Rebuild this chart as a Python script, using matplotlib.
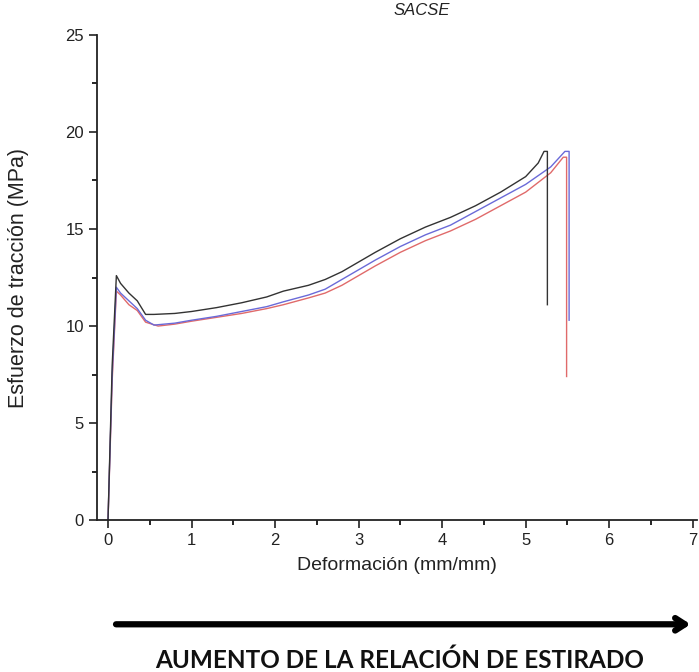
import matplotlib.pyplot as plt
import numpy as np

# curvas esfuerzo-deformacion, SACSE
strain_k = [0, 0.05, 0.1, 0.15, 0.25, 0.35, 0.45, 0.55, 0.8, 1.0, 1.3, 1.6, 1.9, 2.1, 2.4, 2.6,
            2.8, 3.0, 3.2, 3.5, 3.8, 4.1, 4.4, 4.7, 5.0, 5.15, 5.22, 5.26, 5.26]
stress_k = [0, 8.0, 12.6, 12.2, 11.7, 11.3, 10.6, 10.6, 10.65, 10.75, 10.95, 11.2, 11.5, 11.8, 12.1, 12.4,
            12.8, 13.3, 13.8, 14.5, 15.1, 15.6, 16.2, 16.9, 17.7, 18.4, 19.0, 19.0, 11.1]

strain_b = [0, 0.05, 0.1, 0.15, 0.25, 0.35, 0.45, 0.55, 0.8, 1.0, 1.3, 1.6, 1.9, 2.1, 2.4, 2.6,
            2.8, 3.0, 3.2, 3.5, 3.8, 4.1, 4.4, 4.7, 5.0, 5.3, 5.47, 5.52, 5.52]
stress_b = [0, 7.5, 12.0, 11.7, 11.3, 10.9, 10.3, 10.05, 10.15, 10.3, 10.5, 10.75, 11.0, 11.25, 11.6, 11.9,
            12.4, 12.9, 13.4, 14.1, 14.7, 15.2, 15.9, 16.6, 17.3, 18.2, 19.0, 19.0, 10.3]

strain_r = [0, 0.05, 0.1, 0.15, 0.25, 0.35, 0.45, 0.6, 0.8, 1.0, 1.3, 1.6, 1.9, 2.1, 2.4, 2.6,
            2.8, 3.0, 3.2, 3.5, 3.8, 4.1, 4.4, 4.7, 5.0, 5.3, 5.45, 5.49, 5.49]
stress_r = [0, 7.2, 11.8, 11.6, 11.1, 10.8, 10.2, 10.0, 10.1, 10.25, 10.45, 10.65, 10.9, 11.1, 11.45, 11.7,
            12.1, 12.6, 13.1, 13.8, 14.4, 14.9, 15.5, 16.2, 16.9, 17.9, 18.7, 18.7, 7.4]

x_ticks = [0, 1, 2, 3, 4, 5, 6, 7]
y_ticks = [0, 5, 10, 15, 20, 25]

plt.rcParams['font.family'] = ['Liberation Sans', 'DejaVu Sans']

fig = plt.figure(figsize=(6.99, 6.72), dpi=100)
ax = fig.add_axes([0.139, 0.226, 0.858, 0.722])

ax.plot(strain_r, stress_r, color='#e06a6a', lw=1.0)
ax.plot(strain_b, stress_b, color='#6a6ad8', lw=1.0)
ax.plot(strain_k, stress_k, color='#333333', lw=1.0)

ax.set_xlim(-0.13, 7.05)
ax.set_ylim(0, 25)
ax.set_xticks(x_ticks)
ax.set_yticks(y_ticks)
ax.set_xticks(np.arange(0.5, 7, 1), minor=True)
ax.set_yticks(np.arange(2.5, 25, 5), minor=True)
ax.tick_params(which='major', direction='out', length=6, width=1.2, labelsize=12, colors='#222222')
ax.tick_params(which='minor', direction='out', length=3.5, width=1.2)

for side in ['top', 'right']:
    ax.spines[side].set_visible(False)
for side in ['left', 'bottom']:
    ax.spines[side].set_linewidth(1.3)
    ax.spines[side].set_color('#222222')

ax.set_xlabel('Deformación (mm/mm)', fontsize=14, color='#222222', labelpad=6)
ax.set_ylabel('Esfuerzo de tracción (MPa)', fontsize=15.5, color='#222222', labelpad=26)

fig.text(0.604, 0.985, 'SACSE', fontsize=12, style='italic', ha='center', va='center', color='#222222')

ax.annotate('', xy=(0.992, 0.071), xytext=(0.162, 0.071), xycoords='figure fraction',
            arrowprops=dict(arrowstyle='->,head_length=0.7,head_width=0.45', lw=4.5, color='black'))
fig.text(0.571, 0.018, 'AUMENTO DE LA RELACIÓN DE ESTIRADO', fontsize=17.5, fontweight='bold',
         family=['Lato', 'DejaVu Sans'], ha='center', va='center', color='#111111')

fig.savefig('out.png', dpi=100)
